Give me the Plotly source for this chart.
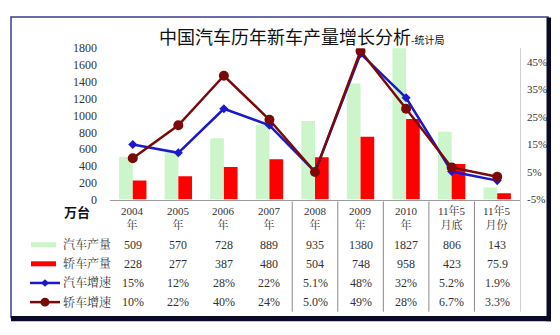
import plotly.graph_objects as go

# ---- data ----
categories = ["2004<br>年", "2005<br>年", "2006<br>年", "2007<br>年", "2008<br>年",
              "2009<br>年", "2010<br>年", "11年5<br>月底", "11年5<br>月份"]
car_output = [509, 570, 728, 889, 935, 1380, 1827, 806, 143]
sedan_output = [228, 277, 387, 480, 504, 748, 958, 423, 75.9]
car_growth = [15, 12, 28, 22, 5.1, 48, 32, 5.2, 1.9]
sedan_growth = [10, 22, 40, 24, 5.0, 49, 28, 6.7, 3.3]
car_output_txt = ["509", "570", "728", "889", "935", "1380", "1827", "806", "143"]
sedan_output_txt = ["228", "277", "387", "480", "504", "748", "958", "423", "75.9"]
car_growth_txt = ["15%", "12%", "28%", "22%", "5.1%", "48%", "32%", "5.2%", "1.9%"]
sedan_growth_txt = ["10%", "22%", "40%", "24%", "5.0%", "49%", "28%", "6.7%", "3.3%"]
row_names = ["汽车产量", "轿车产量", "汽车增速", "轿车增速"]
left_ticks = [0, 200, 400, 600, 800, 1000, 1200, 1400, 1600, 1800]
right_ticks = [-5, 5, 15, 25, 35, 45]

W, H = 560, 335
def py(p):
    return 1 - p / H
def px(p):
    return p / W

GREEN = "#ccf5cc"
RED = "#ff0000"
BLUE = "#1a1acc"
DRED = "#7a0a0a"
SERIF = "Liberation Serif, Noto Serif CJK SC, Noto Sans CJK SC, serif"

idx = list(range(len(categories)))

fig = go.Figure()
fig.add_trace(go.Bar(x=idx, y=car_output, marker=dict(color=GREEN, line=dict(width=0)),
                     name=row_names[0], showlegend=False))
fig.add_trace(go.Bar(x=idx, y=sedan_output, marker=dict(color=RED, line=dict(width=0)),
                     name=row_names[1], showlegend=False))
fig.add_trace(go.Scatter(x=idx, y=car_growth, yaxis="y2", mode="lines+markers",
                         line=dict(color=BLUE, width=2.5),
                         marker=dict(symbol="diamond", size=7, color=BLUE),
                         name=row_names[2], showlegend=False))
fig.add_trace(go.Scatter(x=idx, y=sedan_growth, yaxis="y2", mode="lines+markers",
                         line=dict(color=DRED, width=2.5),
                         marker=dict(symbol="circle", size=10, color=DRED),
                         name=row_names[3], showlegend=False))

x0, x1 = 110, 520
ytop, ybot = 43, 201
fig.update_layout(
    width=W, height=H, margin=dict(l=0, r=0, t=0, b=0),
    paper_bgcolor="white", plot_bgcolor="white",
    barmode="group", bargap=0.4, bargroupgap=0,
    xaxis=dict(domain=[px(x0), px(x1)], range=[-0.5, 8.5], showticklabels=False,
               showgrid=False, zeroline=False, showline=True, linecolor="#9a9a9a",
               linewidth=1, ticks=""),
    yaxis=dict(domain=[py(ybot), py(ytop)], range=[0, 1800], tickvals=left_ticks,
               showgrid=False, zeroline=False, showline=False, ticks="",
               ticklabelstandoff=12,
               tickfont=dict(family=SERIF, size=12, color="#333")),
    yaxis2=dict(overlaying="y", side="right", range=[-5, 50], tickvals=right_ticks,
                ticktext=[f"{v}%" for v in right_ticks], showgrid=False, zeroline=False,
                showline=False, ticks="", ticklabelstandoff=6,
                tickfont=dict(family=SERIF, size=11, color="#333")),
    font=dict(family=SERIF),
)

shapes = []
# outer border
shapes.append(dict(type="rect", xref="paper", yref="paper", x0=px(11), x1=px(548),
                   y0=py(324), y1=py(10.5), line=dict(color="#3c3c8c", width=1.5)))
shapes.append(dict(type="rect", xref="paper", yref="paper", x0=px(546.5), x1=px(551),
                   y0=py(328), y1=py(11), fillcolor="#0a0a28", line=dict(width=0)))
shapes.append(dict(type="rect", xref="paper", yref="paper", x0=px(11), x1=px(551),
                   y0=py(328), y1=py(322.5), fillcolor="#0a0a28", line=dict(width=0)))
# right axis line
shapes.append(dict(type="line", xref="paper", yref="paper", x0=px(520.5), x1=px(520.5),
                   y0=py(318), y1=py(43), line=dict(color="#cfcfcf", width=1)))
# table column separators
for b in [3.5, 4.5, 5.5, 6.5, 7.5]:
    shapes.append(dict(type="line", xref="x", yref="paper", x0=b, x1=b,
                       y0=py(318), y1=py(203), line=dict(color="#8a8a8a", width=1)))

# legend keys
row_y = [248, 268, 288, 308]
shapes.append(dict(type="line", xref="paper", yref="paper", x0=px(31), x1=px(56),
                   y0=py(row_y[0]), y1=py(row_y[0]), line=dict(color=GREEN, width=5)))
shapes.append(dict(type="line", xref="paper", yref="paper", x0=px(31), x1=px(56),
                   y0=py(row_y[1]), y1=py(row_y[1]), line=dict(color=RED, width=5)))
shapes.append(dict(type="line", xref="paper", yref="paper", x0=px(30), x1=px(60),
                   y0=py(row_y[2]), y1=py(row_y[2]), line=dict(color=BLUE, width=2.5)))
cx, cy = 45, row_y[2]
shapes.append(dict(type="path", xref="paper", yref="paper",
                   path=f"M {px(cx-4)} {py(cy)} L {px(cx)} {py(cy-4)} L {px(cx+4)} {py(cy)} L {px(cx)} {py(cy+4)} Z",
                   fillcolor=BLUE, line=dict(width=0)))
shapes.append(dict(type="line", xref="paper", yref="paper", x0=px(30), x1=px(60),
                   y0=py(row_y[3]), y1=py(row_y[3]), line=dict(color=DRED, width=2.5)))
cy = row_y[3]
shapes.append(dict(type="circle", xref="paper", yref="paper", x0=px(cx-4.5), x1=px(cx+4.5),
                   y0=py(cy+4.5), y1=py(cy-4.5), fillcolor=DRED, line=dict(width=0)))

anns = []
# title
anns.append(dict(xref="paper", yref="paper", x=px(157), y=py(30), xanchor="left", yanchor="middle",
                 showarrow=False,
                 text="中国汽车历年新车产量增长分析<span style='font-size:10px'>-统计局</span>",
                 font=dict(family="Noto Sans CJK SC", size=18, color="#111")))
# unit
anns.append(dict(xref="paper", yref="paper", x=px(77), y=py(213), xanchor="center", yanchor="middle",
                 showarrow=False, text="<b>万台</b>",
                 font=dict(family="Noto Sans CJK SC", size=13, color="#111")))
# header
for i, c in enumerate(categories):
    anns.append(dict(xref="x", yref="paper", x=i, y=py(220), xanchor="center", yanchor="middle",
                     showarrow=False, text=c,
                     font=dict(family=SERIF, size=11, color="#333")))
rows = [car_output_txt, sedan_output_txt, car_growth_txt, sedan_growth_txt]
for r, vals in enumerate(rows):
    anns.append(dict(xref="paper", yref="paper", x=px(61), y=py(row_y[r]), xanchor="left",
                     yanchor="middle", showarrow=False, text=row_names[r],
                     font=dict(family=SERIF, size=12, color="#333")))
    for i, v in enumerate(vals):
        anns.append(dict(xref="x", yref="paper", x=i, y=py(row_y[r]), xanchor="center",
                         yanchor="middle", showarrow=False, text=v,
                         font=dict(family=SERIF, size=12, color="#333")))

fig.update_layout(shapes=shapes, annotations=anns)
fig.write_html("out.html")
